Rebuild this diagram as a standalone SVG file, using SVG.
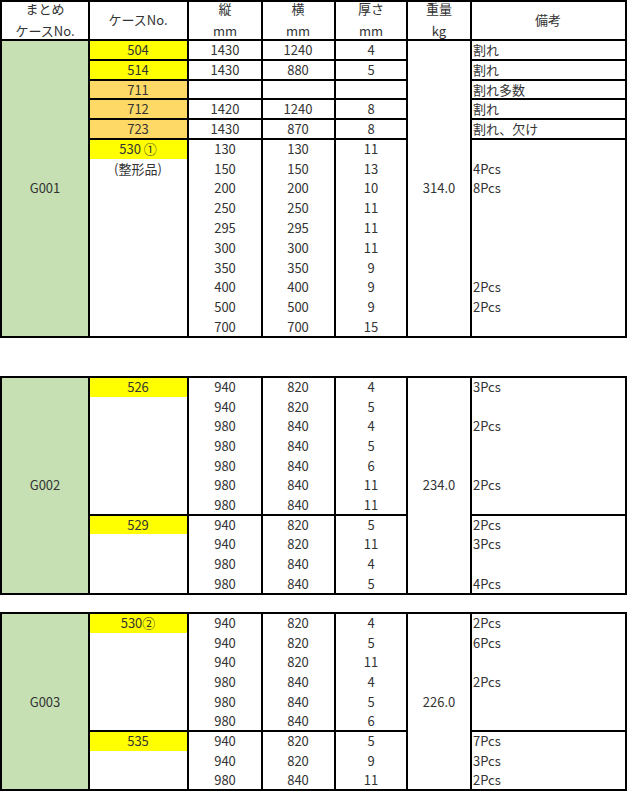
<svg xmlns="http://www.w3.org/2000/svg" width="637" height="795" viewBox="0 0 637 795">
<style>
text{font-family:"Noto Sans CJK JP","Noto Sans",sans-serif;font-size:13px;fill:#333;text-anchor:middle}
.l{text-anchor:start}
.b{stroke:#000;stroke-width:2;fill:none}
.y{fill:#ffff00}.o{fill:#ffd966}.g{fill:#c6e0b4}
</style>
<rect width="637" height="795" fill="#fff"/>
<g id="header">
<text x="45" y="14">まとめ</text><text x="45" y="36">ケースNo.</text>
<text x="138" y="25">ケースNo.</text>
<text x="225" y="14">縦</text><text x="225" y="36">mm</text>
<text x="298" y="14">横</text><text x="298" y="36">mm</text>
<text x="371" y="14">厚さ</text><text x="371" y="36">mm</text>
<text x="439" y="14">重量</text><text x="439" y="36">kg</text>
<text x="548" y="25">備考</text>
</g>
<g id="G001">
<rect class="g" x="1" y="40" width="88" height="297"/>
<rect class="y" x="89" y="40" width="99" height="20"/>
<rect class="y" x="89" y="60" width="99" height="20"/>
<rect class="o" x="89" y="80" width="99" height="19"/>
<rect class="o" x="89" y="99" width="99" height="20"/>
<rect class="o" x="89" y="119" width="99" height="20"/>
<rect class="y" x="89" y="139" width="99" height="20"/>
<text x="45" y="193">G001</text>
<text x="439" y="193">314.0</text>
<text x="138" y="55">504</text><text x="225" y="55">1430</text><text x="298" y="55">1240</text><text x="371" y="55">4</text><text class="l" x="473" y="55">割れ</text>
<text x="138" y="75">514</text><text x="225" y="75">1430</text><text x="298" y="75">880</text><text x="371" y="75">5</text><text class="l" x="473" y="75">割れ</text>
<text x="138" y="95">711</text><text class="l" x="473" y="95">割れ多数</text>
<text x="138" y="114">712</text><text x="225" y="114">1420</text><text x="298" y="114">1240</text><text x="371" y="114">8</text><text class="l" x="473" y="114">割れ</text>
<text x="138" y="134">723</text><text x="225" y="134">1430</text><text x="298" y="134">870</text><text x="371" y="134">8</text><text class="l" x="473" y="134">割れ、欠け</text>
<text x="138" y="154">530 ①</text><text x="225" y="154">130</text><text x="298" y="154">130</text><text x="371" y="154">11</text>
<text x="138" y="174">(整形品)</text><text x="225" y="174">150</text><text x="298" y="174">150</text><text x="371" y="174">13</text><text class="l" x="473" y="174">4Pcs</text>
<text x="225" y="193">200</text><text x="298" y="193">200</text><text x="371" y="193">10</text><text class="l" x="473" y="193">8Pcs</text>
<text x="225" y="213">250</text><text x="298" y="213">250</text><text x="371" y="213">11</text>
<text x="225" y="233">295</text><text x="298" y="233">295</text><text x="371" y="233">11</text>
<text x="225" y="253">300</text><text x="298" y="253">300</text><text x="371" y="253">11</text>
<text x="225" y="273">350</text><text x="298" y="273">350</text><text x="371" y="273">9</text>
<text x="225" y="292">400</text><text x="298" y="292">400</text><text x="371" y="292">9</text><text class="l" x="473" y="292">2Pcs</text>
<text x="225" y="312">500</text><text x="298" y="312">500</text><text x="371" y="312">9</text><text class="l" x="473" y="312">2Pcs</text>
<text x="225" y="332">700</text><text x="298" y="332">700</text><text x="371" y="332">15</text>
</g>
<g id="G002">
<rect class="g" x="1" y="377" width="88" height="217"/>
<rect class="y" x="89" y="377" width="99" height="20"/>
<rect class="y" x="89" y="515" width="99" height="19"/>
<text x="45" y="490">G002</text><text x="439" y="490">234.0</text>
<text x="138" y="392">526</text><text x="225" y="392">940</text><text x="298" y="392">820</text><text x="371" y="392">4</text><text class="l" x="473" y="392">3Pcs</text>
<text x="225" y="412">940</text><text x="298" y="412">820</text><text x="371" y="412">5</text>
<text x="225" y="431">980</text><text x="298" y="431">840</text><text x="371" y="431">4</text><text class="l" x="473" y="431">2Pcs</text>
<text x="225" y="451">980</text><text x="298" y="451">840</text><text x="371" y="451">5</text>
<text x="225" y="471">980</text><text x="298" y="471">840</text><text x="371" y="471">6</text>
<text x="225" y="490">980</text><text x="298" y="490">840</text><text x="371" y="490">11</text><text class="l" x="473" y="490">2Pcs</text>
<text x="225" y="510">980</text><text x="298" y="510">840</text><text x="371" y="510">11</text>
<text x="138" y="530">529</text><text x="225" y="530">940</text><text x="298" y="530">820</text><text x="371" y="530">5</text><text class="l" x="473" y="530">2Pcs</text>
<text x="225" y="549">940</text><text x="298" y="549">820</text><text x="371" y="549">11</text><text class="l" x="473" y="549">3Pcs</text>
<text x="225" y="569">980</text><text x="298" y="569">840</text><text x="371" y="569">4</text>
<text x="225" y="589">980</text><text x="298" y="589">840</text><text x="371" y="589">5</text><text class="l" x="473" y="589">4Pcs</text>
</g>
<g id="G003">
<rect class="g" x="1" y="613" width="88" height="177"/>
<rect class="y" x="89" y="613" width="99" height="20"/>
<rect class="y" x="89" y="731" width="99" height="20"/>
<text x="45" y="707">G003</text><text x="439" y="707">226.0</text>
<text x="138" y="628">530②</text><text x="225" y="628">940</text><text x="298" y="628">820</text><text x="371" y="628">4</text><text class="l" x="473" y="628">2Pcs</text>
<text x="225" y="648">940</text><text x="298" y="648">820</text><text x="371" y="648">5</text><text class="l" x="473" y="648">6Pcs</text>
<text x="225" y="667">940</text><text x="298" y="667">820</text><text x="371" y="667">11</text>
<text x="225" y="687">980</text><text x="298" y="687">840</text><text x="371" y="687">4</text><text class="l" x="473" y="687">2Pcs</text>
<text x="225" y="707">980</text><text x="298" y="707">840</text><text x="371" y="707">5</text>
<text x="225" y="726">980</text><text x="298" y="726">840</text><text x="371" y="726">6</text>
<text x="138" y="746">535</text><text x="225" y="746">940</text><text x="298" y="746">820</text><text x="371" y="746">5</text><text class="l" x="473" y="746">7Pcs</text>
<text x="225" y="766">940</text><text x="298" y="766">820</text><text x="371" y="766">9</text><text class="l" x="473" y="766">3Pcs</text>
<text x="225" y="785">980</text><text x="298" y="785">840</text><text x="371" y="785">11</text><text class="l" x="473" y="785">2Pcs</text>
</g>
<g id="connectors" class="b">
<rect x="1" y="1" width="625" height="336"/>
<path d="M1 40H626M89 1V337M188 1V337M262 1V337M335 1V337M407 1V337M471 1V337"/>
<path d="M89 60H407M89 80H407M89 99H407M89 119H407M89 139H407M471 60H626M471 80H626M471 99H626M471 119H626M471 139H626"/>
<rect x="1" y="377" width="625" height="217"/>
<path d="M89 377V594M188 377V594M262 377V594M335 377V594M407 377V594M471 377V594M89 515H407M471 515H626"/>
<rect x="1" y="613" width="625" height="177"/>
<path d="M89 613V790M188 613V790M262 613V790M335 613V790M407 613V790M471 613V790M89 731H407M471 731H626"/>
</g>
</svg>
